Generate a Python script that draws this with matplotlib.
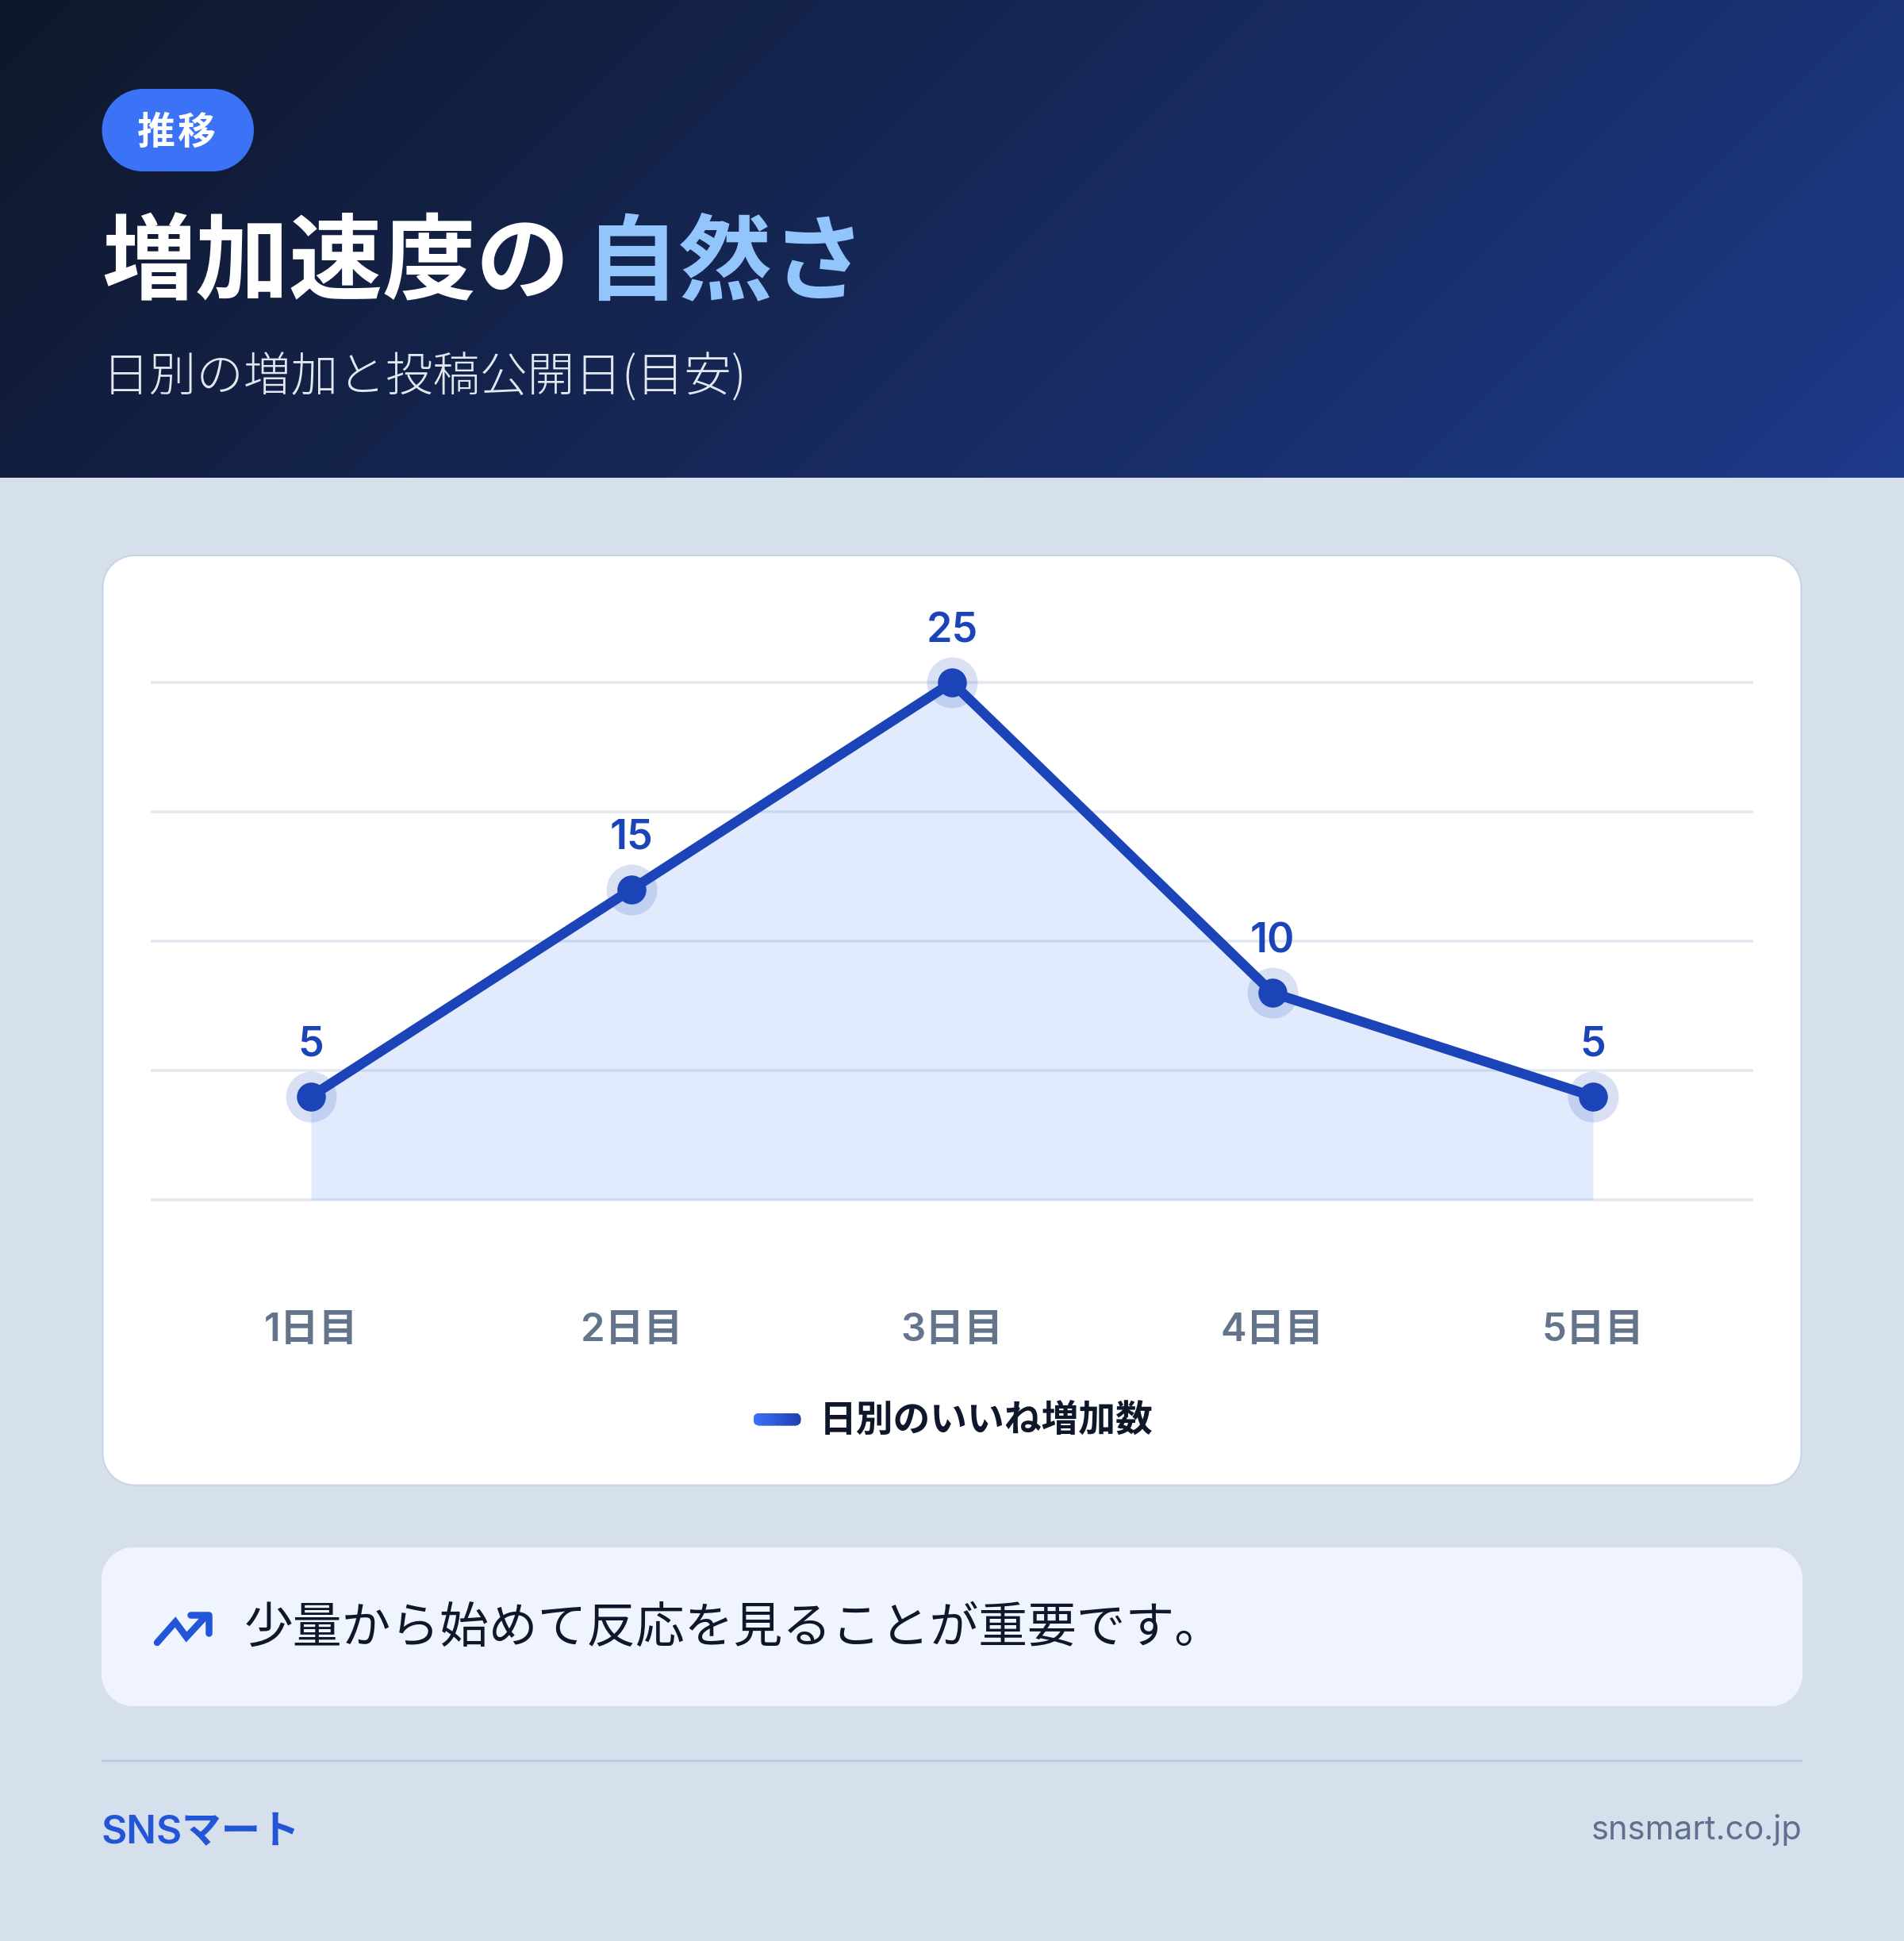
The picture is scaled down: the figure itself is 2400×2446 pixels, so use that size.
import numpy as np
import matplotlib
matplotlib.use("Agg")
import matplotlib.pyplot as plt
from matplotlib.patches import FancyBboxPatch, PathPatch, Rectangle
from matplotlib.path import Path
from matplotlib.legend_handler import HandlerBase
from matplotlib.colors import LinearSegmentedColormap, to_rgb

days = ["1日目", "2日目", "3日目", "4日目", "5日目"]
daily_likes = [5, 15, 25, 10, 5]
grid_levels = [0, 6.25, 12.5, 18.75, 25]
series_name = "日別のいいね増加数"
badge_text = "推移"
title_main = "増加速度の"
title_accent = "自然さ"
subtitle = "日別の増加と投稿公開日(目安)"
note = "少量から始めて反応を見ることが重要です。"
brand = "SNSマート"
site = "snsmart.co.jp"

W, H = 2400, 2446
DPI = 100
px = 72 / DPI
JP = "Noto Sans CJK JP"
MIX = ["Inter", JP, "DejaVu Sans"]
LINE = "#1a44b8"
plt.rcParams["font.family"] = [JP, "DejaVu Sans"]

fig = plt.figure(figsize=(W / DPI, H / DPI), dpi=DPI, facecolor="#d6e0ec")
bg = fig.add_axes([0, 0, 1, 1], zorder=0)
bg.axis("off")

# header gradient
hh = 602
yy, xx = np.mgrid[0:hh, 0:W]
t = ((xx - W / 2) + (yy - hh / 2)) / (W + hh) + 0.5
cmap = LinearSegmentedColormap.from_list("hdr", ["#0f172a", "#1e3a8a"])
bg.imshow(t, cmap=cmap, vmin=0, vmax=1, extent=(0, W, hh, 0), aspect="auto", zorder=0, interpolation="bilinear")
bg.set_xlim(0, W)
bg.set_ylim(H, 0)


def rbox(x0, y0, x1, y1, r, **kw):
    k = 0.5523 * r
    verts = [(x0 + r, y0), (x1 - r, y0), (x1 - r + k, y0), (x1, y0 + r - k), (x1, y0 + r),
             (x1, y1 - r), (x1, y1 - r + k), (x1 - r + k, y1), (x1 - r, y1),
             (x0 + r, y1), (x0 + r - k, y1), (x0, y1 - r + k), (x0, y1 - r),
             (x0, y0 + r), (x0, y0 + r - k), (x0 + r - k, y0), (x0 + r, y0), (x0 + r, y0)]
    L, C = Path.LINETO, Path.CURVE4
    codes = [Path.MOVETO, L, C, C, C, L, C, C, C, L, C, C, C, L, C, C, C, Path.CLOSEPOLY]
    p = PathPatch(Path(verts, codes), **kw)
    bg.add_patch(p)
    return p


rbox(128.5, 112, 320, 216, 52, fc="#3b72f6", ec="none", zorder=1)
bg.text(197, 182, badge_text[0], color="white", fontsize=48 * px, fontweight="bold", ha="center", va="baseline", zorder=2)
bg.text(248, 182, badge_text[1], color="white", fontsize=48 * px, fontweight="bold", ha="center", va="baseline", zorder=2)
bg.text(128, 368, title_main, color="white", fontsize=118 * px, fontweight="bold", ha="left", va="baseline", zorder=2)
bg.text(737, 368, title_accent, color="#93c5fd", fontsize=118 * px, fontweight="bold", ha="left", va="baseline", zorder=2)
bg.text(129, 493, subtitle, color="#e2e8f0", fontsize=59.6 * px, fontweight="light", ha="left", va="baseline", zorder=2)

rbox(129.5, 700, 2270.5, 1871.5, 40, fc="white", ec="#c6d4e6", lw=2 * px, zorder=1)
rbox(128, 1950, 2272, 2150, 40, fc="#f0f4fe", ec="none", zorder=1)
bg.plot([128, 2272], [2218.5, 2218.5], color="#b5c6de", lw=2.5 * px, zorder=1, solid_capstyle="butt")

# trend icon
bg.plot([198, 221, 235, 260], [2070, 2044, 2063, 2036], color="#2255d8", lw=8.5 * px, solid_capstyle="round", solid_joinstyle="miter", zorder=2)
bg.plot([240, 263, 263], [2035, 2035, 2058], color="#2255d8", lw=8.5 * px, solid_capstyle="round", solid_joinstyle="round", zorder=2)
bg.text(308, 2070, note, color="#0f172a", fontsize=61.8 * px, ha="left", va="baseline", zorder=2)
bg.text(128, 2323, brand, color="#2255d8", fontsize=49.5 * px, fontweight="semibold", family=MIX, ha="left", va="baseline", zorder=2)
bg.text(2272, 2318, site, color="#5f6f8e", fontsize=41.5 * px, family=["Inter", "DejaVu Sans"], ha="right", va="baseline", zorder=2)

# chart
ax = fig.add_axes([190 / W, 1 - 1512 / H, (2210 - 190) / W, (1512 - 860) / H], zorder=1)
ax.patch.set_visible(False)
x = np.arange(len(days))
ax.set_xlim(-0.5, len(days) - 0.5)
ax.set_ylim(0, 25)
ax.set_yticks(grid_levels)
ax.set_yticklabels([])
ax.set_xticks(x)
ax.set_xticklabels(days, family=MIX, fontsize=49 * px, fontweight="semibold", color="#64748b")
ax.tick_params(axis="both", length=0)
ax.tick_params(axis="x", pad=142.5 * px)
for s in ax.spines.values():
    s.set_visible(False)
ax.grid(axis="y", color="#e2e8f0", lw=3.5 * px, zorder=0)
ax.set_axisbelow(True)
for gl in ax.yaxis.get_gridlines():
    gl.set_clip_on(False)
    gl.set_solid_capstyle("butt")
ax.fill_between(x, daily_likes, 0, color="#3b78f6", alpha=0.145, lw=0, zorder=1)
ax.plot(x, daily_likes, "o", ms=64 * px, mfc=LINE, mec="none", alpha=0.16, zorder=2, clip_on=False)
line, = ax.plot(x, daily_likes, color=LINE, lw=12.5 * px, zorder=3, solid_joinstyle="round", clip_on=False, label=series_name)
ax.plot(x, daily_likes, "o", ms=36.5 * px, mfc=LINE, mec="none", zorder=4, clip_on=False)
for xi, v in zip(x, daily_likes):
    ax.annotate(str(v), (xi, v), xytext=(0, 40 * px), textcoords="offset points", ha="center", va="bottom",
                family=MIX, fontsize=52 * px, fontweight="semibold", color=LINE, annotation_clip=False)


class GradientHandle(HandlerBase):
    def create_artists(self, legend, orig, xd, yd, width, height, fontsize, trans):
        h = 16 * px
        y0 = (height - h) / 2 - yd
        clip = FancyBboxPatch((-xd, y0), width, h, boxstyle=f"round,pad=0,rounding_size={h / 2}", fc="none", ec="none", transform=trans)
        c0, c1 = np.array(to_rgb("#3b72f6")), np.array(to_rgb("#1e40af"))
        out = [clip]
        n = 40
        for i in range(n):
            r = Rectangle((-xd + width * i / n, y0), width / n + 0.3, h, fc=c0 + (c1 - c0) * i / (n - 1), ec="none", transform=trans)
            r.set_clip_path(clip)
            out.append(r)
        return out


leg = fig.legend(handles=[line], labels=[series_name], handler_map={line: GradientHandle()}, frameon=False,
                 loc="center", bbox_to_anchor=(1201.5 / W, 1 - 1791 / H),
                 prop={"family": [JP, "DejaVu Sans"], "size": 46.8 * px, "weight": "bold"},
                 handlelength=60 / 46.8, handletextpad=23 / 46.8, borderpad=0, borderaxespad=0, labelcolor="#0f172a")

fig.savefig("out.png", dpi=DPI, facecolor=fig.get_facecolor())
